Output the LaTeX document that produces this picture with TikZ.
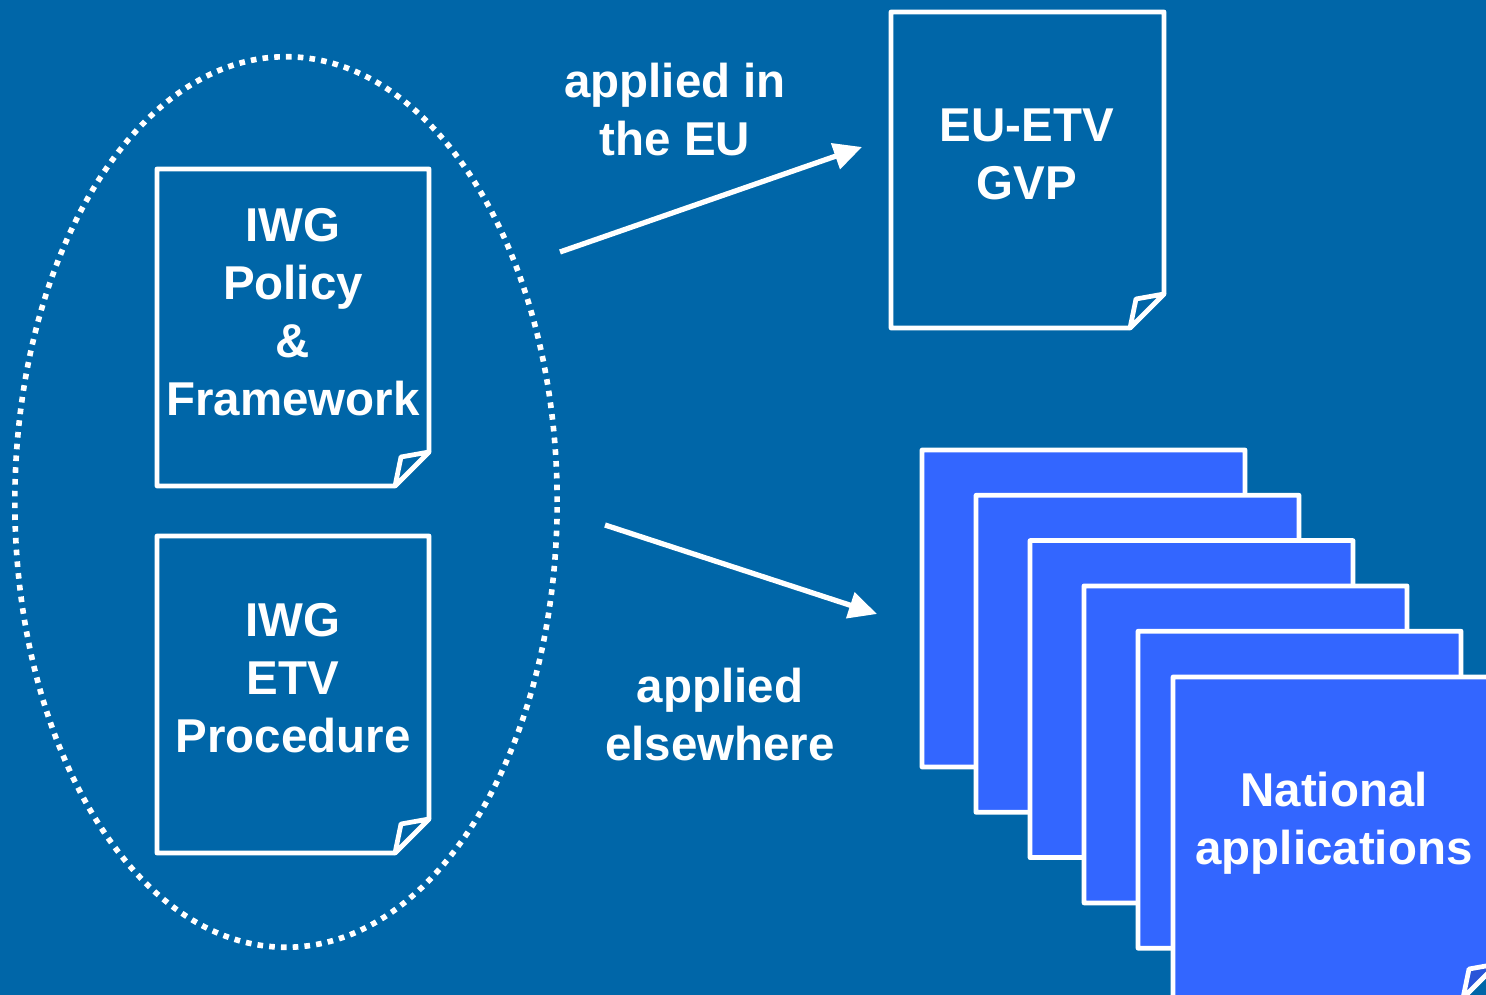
\documentclass[tikz,border=0pt]{standalone}
\usepackage{fontspec}
\setmainfont{Liberation Sans}
\usetikzlibrary{arrows.meta}

\definecolor{slidebg}{HTML}{0066A8}
\definecolor{stackblue}{HTML}{3366FF}
\definecolor{stackfold}{HTML}{2A55D8}

\tikzset{
  sheetline/.style={draw=white, line width=1.35pt, line join=round},
  whitetext/.style={text=white, font=\bfseries\fontsize{13.5}{16.5}\selectfont, align=center},
  flow/.style={draw=white, line width=1.5pt, -{Triangle[length=8pt,width=7.5pt]}},
}

% sheet with a folded corner: x1 y1 x2 y2 fill foldfill
\newcommand{\docsheet}[6]{%
  \filldraw[sheetline, fill=#5] (#1,#2) -- (#3,#2) -- (#3,#4-34) -- (#3-34,#4) -- (#1,#4) -- cycle;
  \filldraw[sheetline, fill=#6] (#3,#4-34) -- (#3-28,#4-29) -- (#3-34,#4) -- cycle;
}

\begin{document}
\begin{tikzpicture}[x=0.01cm, y=-0.01cm]
  \fill[slidebg] (0,0) rectangle (1486,995);
  \useasboundingbox (0,0) rectangle (1486,995);
  \clip (0,0) rectangle (1486,995);

  % IWG documents
  \draw[white, line width=1.6pt, dash pattern=on 1.6pt off 1.75pt]
    (286,502) ellipse [x radius=2.71cm, y radius=4.45cm];
  \docsheet{157}{169}{429}{486}{slidebg}{slidebg}
  \docsheet{157}{536}{429}{853}{slidebg}{slidebg}
  \node[whitetext] (policy) at (293,312) {IWG\\Policy\\\&\\Framework};
  \node[whitetext] (procedure) at (293,678) {IWG\\ETV\\Procedure};

  % EU
  \docsheet{891}{12}{1164}{328}{slidebg}{slidebg}
  \node[whitetext] (gvp) at (1027,154) {EU-ETV\\GVP};

  % national stack
  \foreach \i in {0,...,4} {
    \pgfmathsetmacro\xa{922+54*\i}
    \pgfmathsetmacro\ya{450+45.3*\i}
    \docsheet{\xa}{\ya}{\xa+323}{\ya+317}{stackblue}{stackfold}
  }
  \docsheet{1173}{677}{1497}{998}{stackblue}{stackfold}
  \node[whitetext] (national) at (1334,823) {National\\applications};

  % arrows
  \coordinate (eustart) at (560,252);
  \coordinate (euend) at (862,147);
  \coordinate (elsestart) at (605,525);
  \coordinate (elseend) at (877,614);
  \draw[flow] (eustart) -- (euend);
  \draw[flow] (elsestart) -- (elseend);
  \node[whitetext] (ineu) at (675,110) {applied in\\the EU};
  \node[whitetext] (elsewhere) at (720,715) {applied\\elsewhere};
\end{tikzpicture}
\end{document}
